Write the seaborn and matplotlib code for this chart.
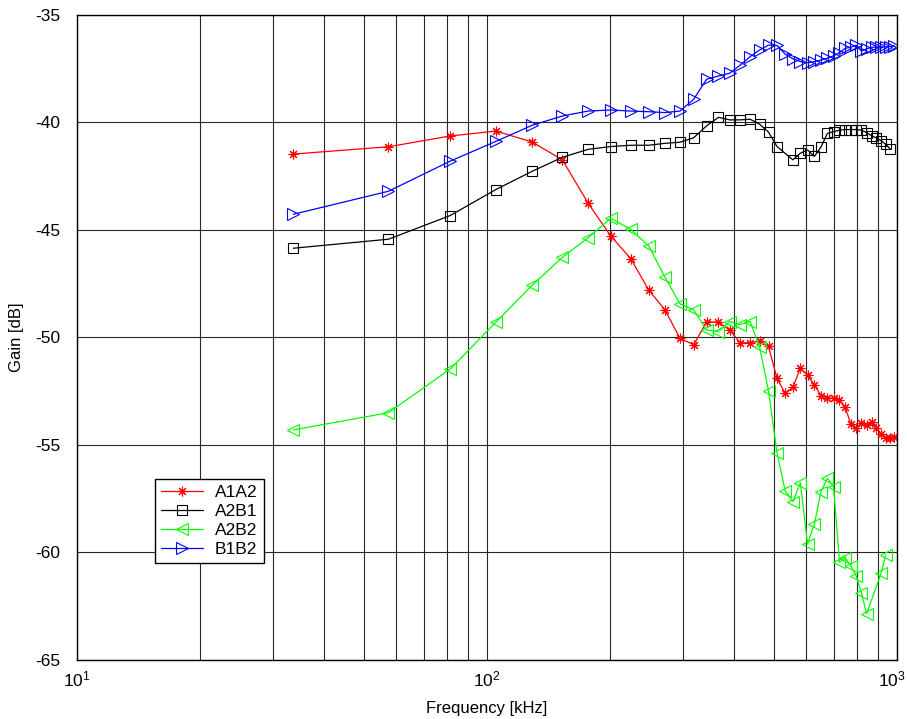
import numpy as np
import pandas as pd
import matplotlib
matplotlib.use('Agg')
import matplotlib.pyplot as plt
import matplotlib.transforms as mtransforms
from matplotlib.ticker import FixedLocator
import seaborn as sns

# frequency points in kHz (same sweep for all four paths)
freq = [33.7, 57.5, 81.3, 105.1, 128.9, 152.7, 176.5, 200.3, 224.1, 247.9,
        271.7, 295.5, 319.3, 343.1, 366.9, 390.7, 414.5, 438.3, 462.1, 485.9,
        509.7, 533.5, 557.3, 581.1, 604.9, 628.7, 652.5, 676.3, 700.1, 723.9,
        747.7, 771.5, 795.3, 819.1, 842.9, 866.7, 890.5, 914.3, 938.1, 961.9,
        985.7]

a1a2 = [-41.47, -41.13, -40.63, -40.40, -40.91, -41.74, -43.76, -45.28, -46.33, -47.79,
        -48.72, -50.04, -50.34, -49.28, -49.28, -49.66, -50.24, -50.25, -50.17, -50.42,
        -51.90, -52.60, -52.32, -51.43, -51.76, -52.21, -52.70, -52.82, -52.83, -52.93,
        -53.25, -54.03, -54.23, -53.99, -54.07, -53.95, -54.22, -54.50, -54.69, -54.69,
        -54.63]

a2b1 = [-45.85, -45.43, -44.33, -43.12, -42.27, -41.62, -41.25, -41.12, -41.06, -41.06,
        -40.97, -40.92, -40.71, -40.16, -39.76, -39.88, -39.88, -39.85, -40.08, -40.45,
        -41.12, np.nan, -41.74, -41.43, -41.28, -41.58, -41.14, -40.51, -40.43, -40.36,
        -40.33, -40.33, -40.33, -40.36, -40.47, -40.62, -40.72, -40.85, -41.01, -41.23,
        np.nan]

a2b2 = [-54.30, -53.50, -51.47, -49.29, -47.57, -46.27, -45.36, -44.46, -44.97, -45.74,
        -47.20, -48.43, -48.72, -49.65, -49.73, -49.26, -49.40, -49.26, -50.43, -52.49,
        -55.37, -57.13, -57.64, -56.75, -59.60, -58.68, -57.17, -56.55, -56.95, -60.45,
        -60.27, -60.62, -61.10, -61.90, -62.85, np.nan, np.nan, -60.97, -60.12, np.nan,
        np.nan]

b1b2 = [-44.27, -43.20, -41.80, -40.88, -40.13, -39.70, -39.47, -39.42, -39.47, -39.50,
        -39.54, -39.47, -38.92, -37.99, -37.84, -37.71, -37.33, -36.94, -36.63, -36.40,
        -36.42, -36.82, -37.04, -37.17, -37.22, -37.17, -37.10, -37.01, -36.90, -36.75,
        -36.55, -36.50, -36.42, -36.68, -36.58, -36.50, -36.50, -36.50, -36.48, -36.47,
        -36.44]

series = [('A1A2', a1a2, 'red', (8, 2, 0), 7),
          ('A2B1', a2b1, 'black', 's', 6.5),
          ('A2B2', a2b2, '#00ff00', '<', 8),
          ('B1B2', b1b2, 'blue', '>', 8)]

sns.set_style('white')
plt.rcParams['font.family'] = ['Liberation Sans', 'DejaVu Sans']
plt.rcParams['axes.unicode_minus'] = False
plt.rcParams['text.color'] = 'black'
plt.rcParams['axes.labelcolor'] = 'black'
plt.rcParams['xtick.color'] = 'black'
plt.rcParams['ytick.color'] = 'black'

fig = plt.figure(figsize=(9.07, 7.19), dpi=100)
ax = fig.add_axes([0.0849, 0.0821, 0.9041, 0.8971])

for name, vals, col, mk, ms in series:
    d = pd.DataFrame({'f': freq, 'g': vals}).dropna()
    sns.lineplot(data=d, x='f', y='g', ax=ax, color=col, label=name,
                 marker=mk, markersize=ms, mfc='none', mec=col, mew=0.8,
                 lw=0.9, estimator=None, errorbar=None, sort=False)

ax.set_xscale('log')
ax.set_xlim(10, 1000)
ax.set_ylim(-65, -35)
ax.xaxis.set_major_locator(FixedLocator([10, 100, 1000]))
ax.set_yticks(np.arange(-65, -34, 5))
ax.grid(which='both', axis='x', color='black', lw=0.8, alpha=0.85)
ax.grid(which='major', axis='y', color='black', lw=0.8, alpha=0.85)
ax.tick_params(which='both', direction='in', length=0, labelsize=12.5)
ax.tick_params(axis='y', pad=12)
ax.tick_params(axis='x', pad=7)
for s in ax.spines.values():
    s.set_color('black')
    s.set_linewidth(1.0)

# nudge the 10^3 label left so it stays inside the figure
last = ax.xaxis.get_major_ticks()[-1].label1
last.set_transform(last.get_transform() +
                   mtransforms.ScaledTranslation(-4 / 72, 0, fig.dpi_scale_trans))

ax.set_xlabel('Frequency [kHz]', fontsize=12, labelpad=8)
ax.set_ylabel('Gain [dB]', fontsize=12, labelpad=8)

leg = ax.legend(loc='lower left', bbox_to_anchor=(0.095, 0.15), borderaxespad=0,
                fancybox=False, framealpha=1, edgecolor='black', fontsize=12.5,
                handlelength=2.4, borderpad=0.35, labelspacing=0.22, handletextpad=0.7)
leg.get_frame().set_linewidth(1.0)

fig.savefig('out.png', dpi=100)
